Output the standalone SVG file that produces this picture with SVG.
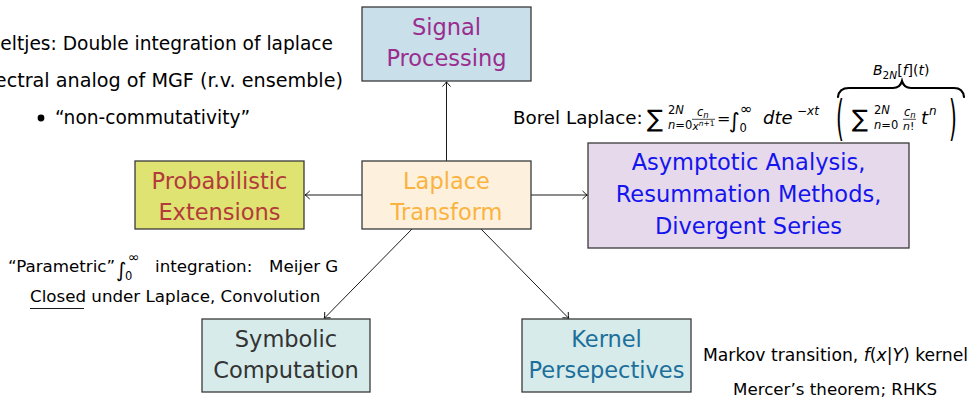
<svg xmlns="http://www.w3.org/2000/svg" width="972" height="401" viewBox="0 0 972 401">
  <style>
    .box { stroke: #3a3a3a; stroke-width: 1.3; }
    .lbl { font-family: "DejaVu Sans", sans-serif; font-size: 22.5px; text-anchor: middle; }
    .ann { font-family: "DejaVu Sans", sans-serif; font-size: 16.7px; fill: #000; }
    .big { font-size: 18.6px; }
    .m { font-family: "DejaVu Sans", sans-serif; fill: #000; }
    .it { font-style: italic; }
    .edge { stroke: #000; stroke-width: 0.9; fill: none; marker-end: url(#tip); }
  </style>
  <defs>
    <marker id="tip" markerUnits="userSpaceOnUse" markerWidth="12" markerHeight="12" refX="0" refY="0" viewBox="-6 -6 12 12" orient="auto" overflow="visible">
      <path d="M-4.5,-3.8 Q-1.6,-0.9 0,0 Q-1.6,0.9 -4.5,3.8" fill="none" stroke="#000" stroke-width="0.9" stroke-linecap="round"/>
    </marker>
  </defs>
  <rect width="972" height="401" fill="#fff"/>

  <!-- connectors from the central transform node -->
  <g id="connectors">
    <path class="edge" d="M446.5,161 L446.5,81.8"/>
    <path class="edge" d="M362,195 L305,195"/>
    <path class="edge" d="M531,195 L587.3,195"/>
    <path class="edge" d="M412,229 L324.3,318.3"/>
    <path class="edge" d="M481,229 L568.7,318.3"/>
  </g>

  <g id="signal-processing">
    <rect class="box" x="362" y="7" width="169" height="74" fill="#c9dfea"/>
    <text class="lbl" fill="#9a2d8e"><tspan x="446.5" y="35">Signal</tspan><tspan x="446.5" y="66">Processing</tspan></text>
  </g>

  <g id="probabilistic-extensions">
    <rect class="box" x="135" y="161" width="169" height="68" fill="#dfe371"/>
    <text class="lbl" fill="#b33b3b"><tspan x="219.5" y="189">Probabilistic</tspan><tspan x="219.5" y="220">Extensions</tspan></text>
  </g>

  <g id="laplace-transform">
    <rect class="box" x="362" y="161" width="169" height="68" fill="#fdf1de"/>
    <text class="lbl" fill="#fbb33f"><tspan x="446.5" y="189">Laplace</tspan><tspan x="446.5" y="220">Transform</tspan></text>
  </g>

  <g id="asymptotic-analysis">
    <rect class="box" x="588" y="143" width="321" height="105" fill="#e6d9eb"/>
    <text class="lbl" fill="#1414ee"><tspan x="748.5" y="170">Asymptotic Analysis,</tspan><tspan x="748.5" y="202">Resummation Methods,</tspan><tspan x="748.5" y="234">Divergent Series</tspan></text>
  </g>

  <g id="symbolic-computation">
    <rect class="box" x="202" y="319" width="168" height="73" fill="#d6ebea"/>
    <text class="lbl" fill="#333"><tspan x="286" y="347">Symbolic</tspan><tspan x="286" y="378">Computation</tspan></text>
  </g>

  <g id="kernel-perspectives">
    <rect class="box" x="522" y="319" width="169" height="73" fill="#d6ebea"/>
    <text class="lbl" fill="#1d6f9b"><tspan x="606.5" y="347">Kernel</tspan><tspan x="606.5" y="378">Persepectives</tspan></text>
  </g>

  <!-- notes, upper left (lines run past the left edge) -->
  <g id="notes-upper-left">
    <text class="ann big" x="333" y="50" text-anchor="end">Stieltjes: Double integration of laplace</text>
    <text class="ann" x="343" y="87" text-anchor="end" style="font-size:19.2px">Spectral analog of MGF (r.v. ensemble)</text>
    <circle cx="41" cy="118" r="3.4" fill="#000"/>
    <text class="ann big" x="55" y="124">“non-commutativity”</text>
  </g>

  <!-- Borel-Laplace identity with overbrace -->
  <g id="borel-formula">
    <text class="m" x="513" y="124" font-size="18.3">Borel Laplace:</text>
    <text class="m" x="647" y="127" font-size="24">∑</text>
    <text class="m" x="668" y="114" font-size="11.5">2<tspan class="it">N</tspan></text>
    <text class="m" x="668" y="129" font-size="11.5"><tspan class="it">n</tspan>=0</text>
    <text class="m it" x="697" y="115.5" font-size="11.5">c<tspan font-size="8.5" dy="2">n</tspan></text>
    <line x1="692" y1="119.3" x2="715" y2="119.3" stroke="#000" stroke-width="0.7"/>
    <text class="m it" x="692.5" y="129.5" font-size="10.5">x<tspan font-size="7.5" dy="-3.5" font-style="normal"><tspan class="it">n</tspan>+1</tspan></text>
    <text class="m" x="717" y="124" font-size="16">=</text>
    <text class="m" x="729" y="128" font-size="21">∫</text>
    <text class="m" x="740" y="114" font-size="15">∞</text>
    <text class="m" x="739.5" y="132" font-size="11.5">0</text>
    <text class="m it" x="763" y="124" font-size="18">dte</text>
    <text class="m it" x="797" y="115" font-size="12">−xt</text>
    <text class="m" font-size="48" transform="translate(836,135) scale(0.42,1)">(</text>
    <text class="m" x="852" y="127" font-size="24">∑</text>
    <text class="m" x="874" y="114" font-size="11.5">2<tspan class="it">N</tspan></text>
    <text class="m" x="874" y="129" font-size="11.5"><tspan class="it">n</tspan>=0</text>
    <text class="m it" x="904" y="115.5" font-size="11.5">c<tspan font-size="8.5" dy="2">n</tspan></text>
    <line x1="903" y1="119.3" x2="916" y2="119.3" stroke="#000" stroke-width="0.7"/>
    <text class="m" x="903" y="129.5" font-size="11"><tspan class="it">n</tspan>!</text>
    <text class="m it" x="921" y="124" font-size="18">t</text>
    <text class="m it" x="929" y="115" font-size="12">n</text>
    <text class="m" font-size="48" transform="translate(949,135) scale(0.42,1)">)</text>
    <path d="M838,97 Q839,88 849,88 L893,88 Q900,88 902,81 Q904,88 911,88 L954,88 Q963,88 964,97" fill="none" stroke="#000" stroke-width="2.2" stroke-linecap="round"/>
    <text class="m" x="873" y="75" font-size="14"><tspan class="it">B</tspan><tspan font-size="10.5" dy="3.5">2<tspan class="it">N</tspan></tspan><tspan dy="-3.5">[<tspan class="it">f</tspan>](<tspan class="it">t</tspan>)</tspan></text>
  </g>

  <!-- notes, lower left -->
  <g id="notes-lower-left">
    <text class="ann" x="8" y="272">“Parametric”</text>
    <text class="m" x="116" y="277" font-size="20">∫</text>
    <text class="m" x="128" y="262" font-size="14">∞</text>
    <text class="m" x="125" y="280" font-size="11.5">0</text>
    <text class="ann" x="155" y="272">integration:</text>
    <text class="ann" x="269" y="272">Meijer G</text>
    <text class="ann" x="30" y="302">Closed under Laplace, Convolution</text>
    <line x1="30" y1="308.5" x2="84" y2="308.5" stroke="#000" stroke-width="0.9"/>
  </g>

  <!-- notes, lower right -->
  <g id="notes-lower-right">
    <text class="ann" x="703" y="361" style="font-size:17.2px">Markov transition, <tspan class="it">f</tspan>(<tspan class="it">x</tspan>|<tspan class="it">Y</tspan>) kernel</text>
    <text class="ann" x="835" y="395" text-anchor="middle">Mercer’s theorem; RHKS</text>
  </g>
</svg>
